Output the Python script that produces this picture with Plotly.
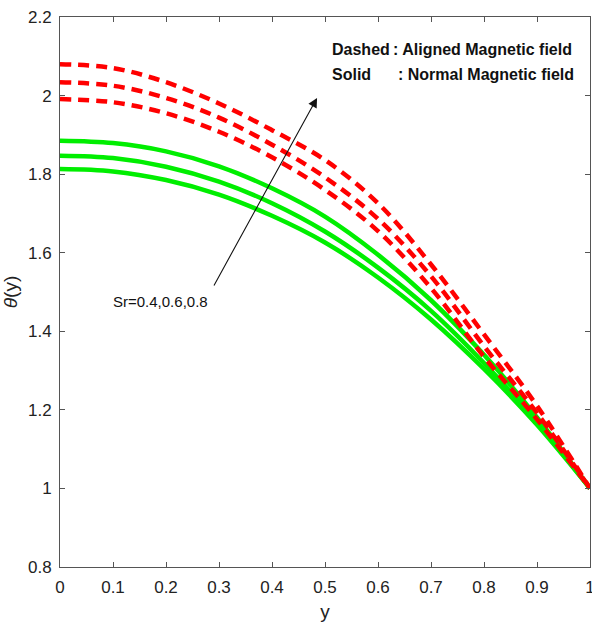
import plotly.graph_objects as go

y_vals = [0.0, 0.1, 0.2, 0.3, 0.4, 0.5, 0.6, 0.7, 0.8, 0.9, 1.0]

# Aligned magnetic field (dashed, red), Sr = 0.8, 0.6, 0.4 (top to bottom)
aligned_top = [2.080, 2.070, 2.034, 1.980, 1.912, 1.836, 1.726, 1.570, 1.392, 1.210, 1.0]
aligned_mid = [2.034, 2.025, 1.994, 1.944, 1.875, 1.792, 1.686, 1.540, 1.362, 1.192, 1.0]
aligned_bot = [1.991, 1.983, 1.955, 1.908, 1.843, 1.760, 1.655, 1.510, 1.335, 1.176, 1.0]

# Normal magnetic field (solid, green)
normal_top = [1.885, 1.879, 1.858, 1.820, 1.764, 1.692, 1.595, 1.479, 1.340, 1.181, 1.0]
normal_mid = [1.847, 1.841, 1.819, 1.781, 1.726, 1.654, 1.562, 1.452, 1.319, 1.169, 1.0]
normal_bot = [1.813, 1.807, 1.785, 1.748, 1.694, 1.626, 1.537, 1.430, 1.304, 1.162, 1.0]

x_ticks = [0, 0.1, 0.2, 0.3, 0.4, 0.5, 0.6, 0.7, 0.8, 0.9, 1]
x_tick_labels = ["0", "0.1", "0.2", "0.3", "0.4", "0.5", "0.6", "0.7", "0.8", "0.9", "1"]
y_ticks = [0.8, 1.0, 1.2, 1.4, 1.6, 1.8, 2.0, 2.2]
y_tick_labels = ["0.8", "1", "1.2", "1.4", "1.6", "1.8", "2", "2.2"]

FONT = "Arial, 'Liberation Sans', sans-serif"

fig = go.Figure()
for s in [normal_top, normal_mid, normal_bot]:
    fig.add_trace(go.Scatter(x=y_vals, y=s, mode="lines", line_shape="spline",
                             line=dict(color="#00ee00", width=4.5), showlegend=False))
for s in [aligned_top, aligned_mid, aligned_bot]:
    fig.add_trace(go.Scatter(x=y_vals, y=s, mode="lines", line_shape="spline",
                             line=dict(color="#ff0000", width=4.5, dash="11px,7px"), showlegend=False))

axis_common = dict(showgrid=False, zeroline=False, showline=True, linecolor="#555555", linewidth=1,
                   ticks="inside", ticklen=5, tickcolor="#555555", mirror="ticks",
                   ticklabeloverflow="allow", automargin=False,
                   tickfont=dict(family=FONT, size=17, color="#222222"))

fig.update_xaxes(range=[0, 1], tickvals=x_ticks, ticktext=x_tick_labels, ticklabelstandoff=5,
                 title=dict(text="y", font=dict(family=FONT, size=19, color="#222222"), standoff=8),
                 **axis_common)
fig.update_yaxes(range=[0.8, 2.2], tickvals=y_ticks, ticktext=y_tick_labels, ticklabelstandoff=4,
                 title=dict(text="<i>θ</i>(y)", font=dict(family=FONT, size=19, color="#222222"), standoff=6),
                 **axis_common)

annots = [
    dict(x=0.509, y=2.118, text="<b>Dashed</b>"),
    dict(x=0.6245, y=2.118, text="<b>: Aligned Magnetic field</b>"),
    dict(x=0.509, y=2.053, text="<b>Solid</b>"),
    dict(x=0.634, y=2.053, text="<b>: Normal Magnetic field</b>"),
]
for a in annots:
    fig.add_annotation(xref="x", yref="y", showarrow=False, xanchor="left", yanchor="middle",
                       font=dict(family=FONT, size=16, color="#111111"), **a)

fig.add_annotation(xref="x", yref="y", x=0.189, y=1.477, text="Sr=0.4,0.6,0.8", showarrow=False,
                   font=dict(family=FONT, size=15, color="#111111"))
fig.add_annotation(xref="x", yref="y", axref="x", ayref="y", x=0.485, y=1.994, ax=0.289, ay=1.513,
                   text="", showarrow=True, arrowhead=2, arrowsize=1.7, arrowwidth=1.1,
                   arrowcolor="#111111", standoff=0, startstandoff=0)

fig.update_layout(width=592, height=633, margin=dict(l=60, r=2, t=17, b=66, autoexpand=False),
                  paper_bgcolor="white", plot_bgcolor="white", showlegend=False)

fig.write_html("out.html")
